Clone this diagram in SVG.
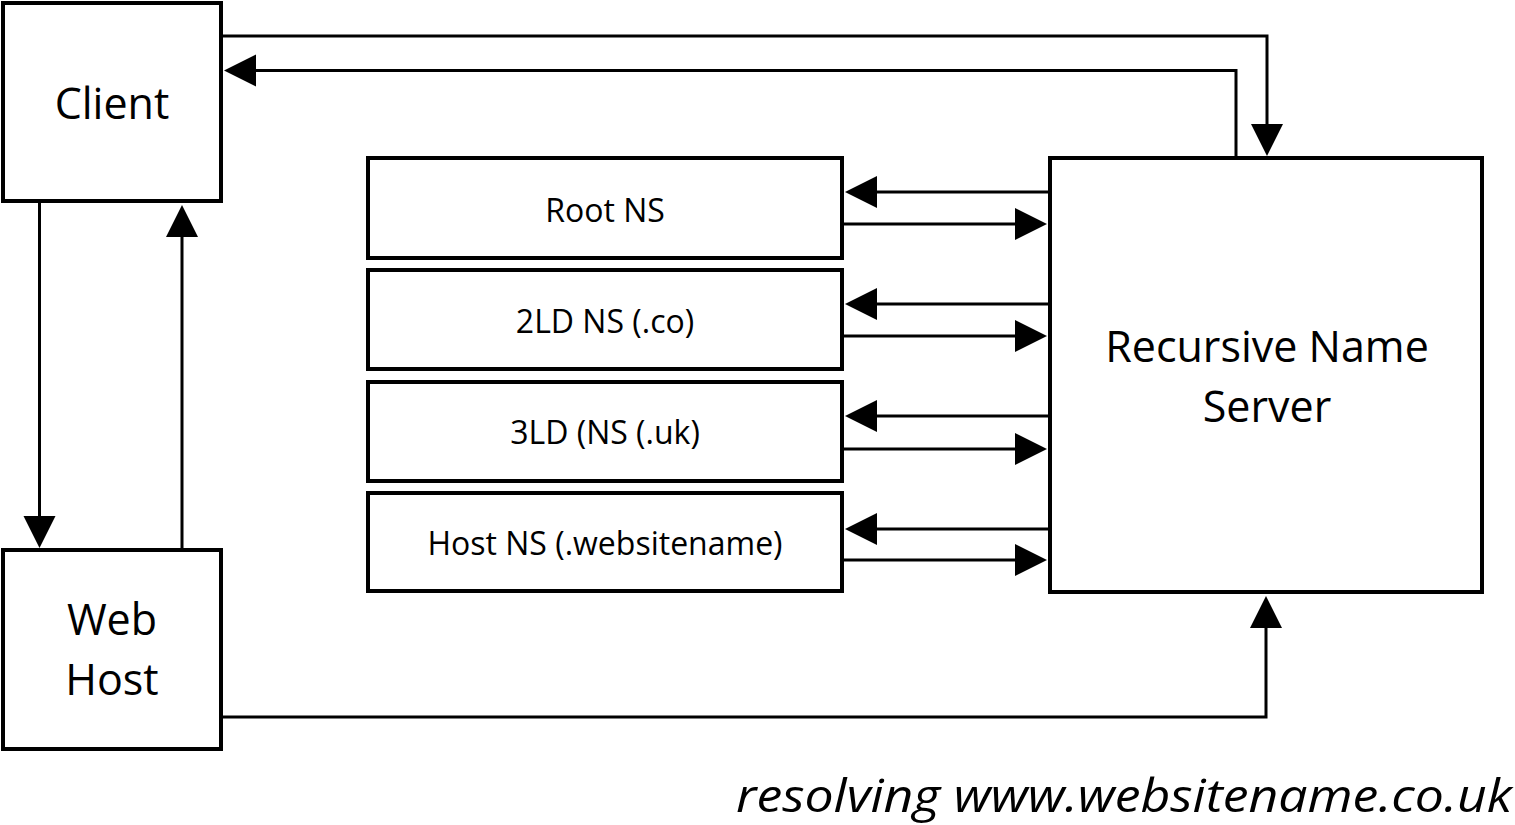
<svg xmlns="http://www.w3.org/2000/svg" width="1515" height="825" viewBox="0 0 1515 825">
  <style>
    .box { fill: #fff; stroke: #000; stroke-width: 4; }
    .conn { fill: none; stroke: #000; stroke-width: 3; }
    .lbl { font-family: "Open Sans", "Noto Sans", sans-serif; fill: #000; text-anchor: middle; }
    .big { font-size: 43px; }
    .ns { font-size: 32px; }
    .cap { font-family: "Open Sans", "Noto Sans", sans-serif; font-style: italic; font-size: 46px; fill: #000; }
  </style>
  <defs>
    <marker id="arr" markerUnits="userSpaceOnUse" markerWidth="34" markerHeight="34" refX="2" refY="16" orient="auto" viewBox="0 0 34 32">
      <path d="M0,0 L32,16 L0,32 Z" fill="#000"/>
    </marker>
  </defs>
  <rect width="1515" height="825" fill="#fff"/>

  <g id="connectors">
    <path class="conn" d="M223,36 H1267 V126" marker-end="url(#arr)"/>
    <path class="conn" d="M1236,156 V70.5 H254" marker-end="url(#arr)"/>
    <path class="conn" d="M39.5,203 V518" marker-end="url(#arr)"/>
    <path class="conn" d="M182,548 V235" marker-end="url(#arr)"/>
    <path class="conn" d="M223,717 H1266 V626" marker-end="url(#arr)"/>
    <path class="conn" d="M1048,192 H875" marker-end="url(#arr)"/>
    <path class="conn" d="M844,224 H1017" marker-end="url(#arr)"/>
    <path class="conn" d="M1048,304 H875" marker-end="url(#arr)"/>
    <path class="conn" d="M844,336 H1017" marker-end="url(#arr)"/>
    <path class="conn" d="M1048,416 H875" marker-end="url(#arr)"/>
    <path class="conn" d="M844,449 H1017" marker-end="url(#arr)"/>
    <path class="conn" d="M1048,529 H875" marker-end="url(#arr)"/>
    <path class="conn" d="M844,560 H1017" marker-end="url(#arr)"/>
  </g>

  <g id="client">
    <rect class="box" x="3" y="3" width="218" height="198"/>
    <text class="lbl big" x="112" y="119">Client</text>
  </g>
  <g id="webhost">
    <rect class="box" x="3" y="550" width="218" height="199"/>
    <text class="lbl big" x="112" y="635">Web</text>
    <text class="lbl big" x="112" y="695">Host</text>
  </g>
  <g id="rns">
    <rect class="box" x="1050" y="158" width="432" height="434"/>
    <text class="lbl big" x="1267" y="362">Recursive Name</text>
    <text class="lbl big" x="1267" y="422">Server</text>
  </g>
  <g id="rootns">
    <rect class="box" x="368" y="158" width="474" height="100"/>
    <text class="lbl ns" x="605" y="222">Root NS</text>
  </g>
  <g id="ns2ld">
    <rect class="box" x="368" y="270" width="474" height="99"/>
    <text class="lbl ns" x="605" y="333">2LD NS (.co)</text>
  </g>
  <g id="ns3ld">
    <rect class="box" x="368" y="382" width="474" height="99"/>
    <text class="lbl ns" x="605" y="444">3LD (NS (.uk)</text>
  </g>
  <g id="hostns">
    <rect class="box" x="368" y="493" width="474" height="98"/>
    <text class="lbl ns" x="605" y="555">Host NS (.websitename)</text>
  </g>
  <text class="cap" x="736" y="812" textLength="776" lengthAdjust="spacingAndGlyphs">resolving www.websitename.co.uk</text>
</svg>
